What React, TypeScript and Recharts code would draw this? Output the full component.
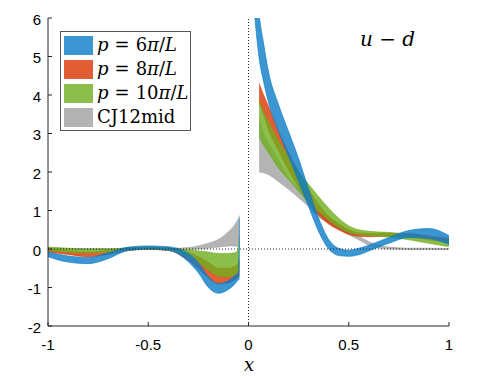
import React from 'react';
import { ComposedChart, Area, XAxis, YAxis, ReferenceLine } from 'recharts';

// x grid: left branch, a gap at 0, right branch
const xs = [
  -1, -0.9, -0.8, -0.7, -0.6, -0.5, -0.4, -0.3, -0.25, -0.2, -0.15, -0.1, -0.07, -0.05, -0.045,
  0,
  0.03, 0.053, 0.075, 0.1, 0.15, 0.2, 0.25, 0.3, 0.35, 0.4, 0.45, 0.5, 0.55, 0.6, 0.7, 0.8, 0.9, 1,
];

// p = 6pi/L
const blueLo = [
  -0.2, -0.34, -0.38, -0.25, -0.04, 0.0, -0.03, -0.33, -0.62, -1.0, -1.15, -1.05, -0.92, -0.8, -0.78,
  null,
  6.1, 4.95, 4.35, 3.8, 3.05, 2.4, 1.75, 1.1, 0.45, 0.0, -0.17, -0.19, -0.15, -0.05, 0.15, 0.3, 0.27, 0.12,
];
const blueHi = [
  -0.08, -0.18, -0.22, -0.1, 0.05, 0.08, 0.06, -0.12, -0.35, -0.72, -0.9, -0.82, -0.7, -0.6, 0.8,
  null,
  7.5, 6.1, 5.35, 4.6, 3.75, 3.05, 2.35, 1.55, 0.8, 0.25, 0.02, -0.03, 0.02, 0.1, 0.3, 0.48, 0.53, 0.35,
];

// p = 8pi/L
const orangeLo = [
  -0.08, -0.14, -0.2, -0.14, -0.04, -0.01, -0.04, -0.3, -0.5, -0.75, -0.9, -0.88, -0.8, -0.72, -0.7,
  null,
  null, 3.8, 3.5, 3.1, 2.55, 2.05, 1.6, 1.2, 0.88, 0.65, 0.5, 0.38, 0.33, 0.32, 0.33, 0.3, 0.24, 0.16,
];
const orangeHi = [
  0.0, -0.05, -0.08, -0.04, 0.03, 0.05, 0.03, -0.08, -0.2, -0.35, -0.5, -0.5, -0.45, -0.35, -0.3,
  null,
  null, 4.3, 4.0, 3.7, 3.05, 2.5, 2.0, 1.55, 1.15, 0.85, 0.65, 0.5, 0.42, 0.4, 0.41, 0.4, 0.34, 0.27,
];

// p = 10pi/L
const greenLo = [
  -0.03, -0.08, -0.1, -0.08, -0.03, 0.0, -0.04, -0.2, -0.35, -0.55, -0.7, -0.72, -0.68, -0.62, -0.6,
  null,
  null, 2.9, 2.7, 2.5, 2.1, 1.8, 1.5, 1.2, 0.97, 0.75, 0.56, 0.43, 0.38, 0.35, 0.31, 0.24, 0.15, 0.06,
];
const greenHi = [
  0.05, 0.02, 0.0, 0.0, 0.03, 0.05, 0.02, -0.02, -0.05, -0.08, -0.12, -0.12, -0.1, 0.0, 0.32,
  null,
  null, 3.85, 3.55, 3.3, 2.8, 2.4, 2.02, 1.68, 1.36, 1.06, 0.8, 0.6, 0.5, 0.46, 0.43, 0.37, 0.28, 0.19,
];

// CJ12mid
const grayLo = [
  -0.02, -0.02, -0.02, -0.02, -0.02, -0.01, -0.02, -0.02, 0.0, 0.02, 0.05, 0.08, 0.08, 0.05, 0.0,
  null,
  null, 2.0, 1.98, 1.93, 1.75, 1.55, 1.33, 1.1, 0.83, 0.68, 0.52, 0.37, 0.24, 0.1, 0.0, -0.01, -0.01, -0.01,
];
const grayHi = [
  0.01, 0.01, 0.01, 0.01, 0.01, 0.02, 0.01, 0.04, 0.08, 0.15, 0.25, 0.45, 0.62, 0.8, 0.87,
  null,
  null, 3.4, 3.0, 2.75, 2.3, 1.85, 1.55, 1.28, 0.98, 0.82, 0.64, 0.46, 0.33, 0.19, 0.05, 0.02, 0.02, 0.01,
];

const xTicks = [-1, -0.5, 0, 0.5, 1];
const yTicks = [-2, -1, 0, 1, 2, 3, 4, 5, 6];

const SERIES = [
  { key: 'blue', lo: blueLo, hi: blueHi, color: '#0b7cc7' },
  { key: 'orange', lo: orangeLo, hi: orangeHi, color: '#da3703' },
  { key: 'green', lo: greenLo, hi: greenHi, color: '#6fae1e' },
  { key: 'gray', lo: grayLo, hi: grayHi, color: '#a1a1a1' },
];

// drawing order: gray, orange, green, blue on top
const DRAW_ORDER = ['gray', 'orange', 'green', 'blue'];

const data = xs.map((x, i) => {
  const row: any = { x };
  SERIES.forEach((s) => {
    const lo = s.lo[i];
    const hi = s.hi[i];
    row[s.key] = lo == null || hi == null ? null : [lo, hi];
  });
  return row;
});

const AXIS = '#262626';
const SANS = '"Liberation Sans", Arial, Helvetica, sans-serif';
const SERIF = '"DejaVu Serif", "Liberation Serif", serif';

const fmt = (v: number) => String(v);

const BottomTick = (props: any) => {
  const { x, y, payload } = props;
  return (
    <g>
      <line x1={x} y1={y} x2={x} y2={y - 4} stroke={AXIS} strokeWidth={1} />
      <text x={x} y={y + 18} textAnchor="middle" dominantBaseline="central" fontFamily={SANS} fontSize={15} fill="#000">
        {fmt(payload.value)}
      </text>
    </g>
  );
};

const TopTick = (props: any) => {
  const { x, y } = props;
  return <line x1={x} y1={y} x2={x} y2={y + 4} stroke={AXIS} strokeWidth={1} />;
};

const LeftTick = (props: any) => {
  const { x, y, payload } = props;
  return (
    <g>
      <line x1={x} y1={y} x2={x + 4} y2={y} stroke={AXIS} strokeWidth={1} />
      <text x={x - 7} y={y + 1} textAnchor="end" dominantBaseline="central" fontFamily={SANS} fontSize={15} fill="#000">
        {fmt(payload.value)}
      </text>
    </g>
  );
};

const RightTick = (props: any) => {
  const { x, y } = props;
  return <line x1={x} y1={y} x2={x - 4} y2={y} stroke={AXIS} strokeWidth={1} />;
};

const Math = ({ n }: { n: string }) => (
  <span>
    <i>p</i>
    <span style={{ margin: '0 6px' }}>=</span>
    {n}
    <i>π</i>/<i>L</i>
  </span>
);

const LEGEND = [
  { key: 'blue', label: <Math n="6" /> },
  { key: 'orange', label: <Math n="8" /> },
  { key: 'green', label: <Math n="10" /> },
  { key: 'gray', label: <span>CJ12mid</span> },
];

export default function App() {
  const colorOf = (k: string) => SERIES.find((s) => s.key === k)!.color;
  return (
    <div style={{ position: 'absolute', left: 0, top: 0, width: 480, height: 379, background: '#fff' }}>
      <ComposedChart width={480} height={379} data={data} margin={{ top: 18, right: 31, bottom: 18, left: 8 }}>
        <XAxis
          dataKey="x"
          type="number"
          domain={[-1, 1]}
          ticks={xTicks}
          height={35}
          tickSize={0}
          tickMargin={0}
          tickLine={false}
          tick={<BottomTick />}
          axisLine={{ stroke: AXIS, strokeWidth: 1 }}
          interval={0}
        />
        <XAxis
          xAxisId="top"
          dataKey="x"
          type="number"
          orientation="top"
          domain={[-1, 1]}
          ticks={xTicks}
          height={0}
          tickSize={0}
          tickMargin={0}
          tickLine={false}
          tick={<TopTick />}
          axisLine={{ stroke: AXIS, strokeWidth: 1 }}
          interval={0}
        />
        <YAxis
          type="number"
          domain={[-2, 6]}
          ticks={yTicks}
          allowDataOverflow
          width={40}
          tickSize={0}
          tickMargin={0}
          tickLine={false}
          tick={<LeftTick />}
          axisLine={{ stroke: AXIS, strokeWidth: 1 }}
          interval={0}
        />
        <YAxis
          yAxisId="right"
          type="number"
          orientation="right"
          domain={[-2, 6]}
          ticks={yTicks}
          allowDataOverflow
          width={0}
          tickSize={0}
          tickMargin={0}
          tickLine={false}
          tick={<RightTick />}
          axisLine={{ stroke: AXIS, strokeWidth: 1 }}
          interval={0}
        />
        <ReferenceLine y={0} stroke="#222" strokeWidth={1} strokeDasharray="1 2" />
        <ReferenceLine x={0} stroke="#222" strokeWidth={1} strokeDasharray="1 2" />
        {DRAW_ORDER.map((k) => (
          <Area
            key={k}
            dataKey={k}
            type="monotone"
            fill={colorOf(k)}
            fillOpacity={0.8}
            stroke={colorOf(k)}
            strokeWidth={0.7}
            strokeOpacity={0.9}
            connectNulls={false}
            dot={false}
            activeDot={false}
            isAnimationActive={false}
          />
        ))}
      </ComposedChart>

      {/* legend */}
      <div
        style={{
          position: 'absolute',
          left: 60,
          top: 31,
          width: 129,
          height: 98,
          border: '1px solid #555',
          background: '#fff',
          fontFamily: SERIF,
          fontSize: 18,
          color: '#000',
        }}
      >
        {LEGEND.map((e, i) => (
          <div key={e.key} style={{ position: 'absolute', left: 3, top: 4 + i * 24, height: 18, display: 'flex', alignItems: 'center', whiteSpace: 'nowrap' }}>
            <span
              style={{
                display: 'inline-block',
                width: 27,
                height: 17,
                background: colorOf(e.key),
                opacity: 0.8,
                border: `0.7px solid ${colorOf(e.key)}`,
                marginRight: 4,
              }}
            />
            <span style={{ lineHeight: '18px' }}>{e.label}</span>
          </div>
        ))}
      </div>

      <div style={{ position: 'absolute', left: 360, top: 27, fontFamily: SERIF, fontSize: 20, fontStyle: 'italic', color: '#000', whiteSpace: 'nowrap' }}>
        u <span style={{ fontStyle: 'normal' }}>−</span> d
      </div>
      <div style={{ position: 'absolute', left: 244, top: 354, fontFamily: SERIF, fontSize: 18, fontStyle: 'italic', color: '#000' }}>x</div>
    </div>
  );
}
